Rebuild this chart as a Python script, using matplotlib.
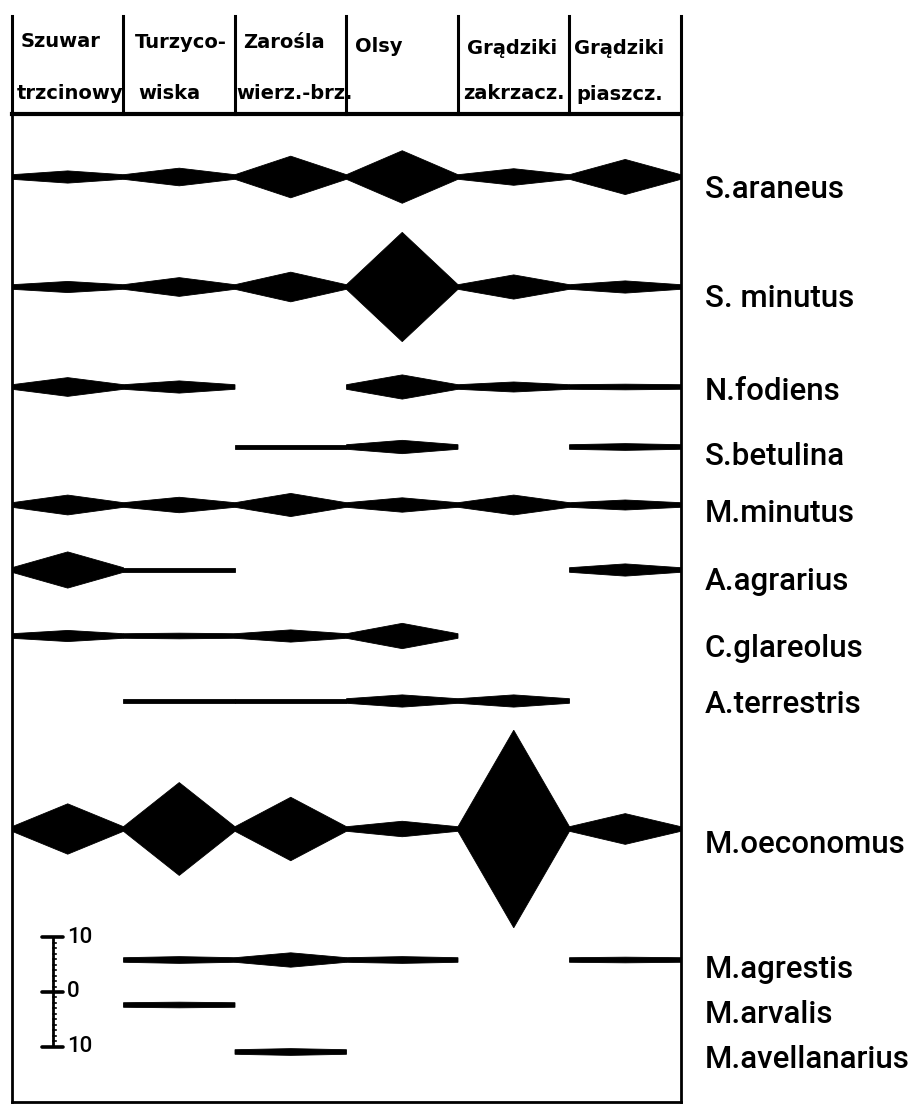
import matplotlib
matplotlib.use("Agg")
import matplotlib.pyplot as plt

# ---------------- data ----------------
habitat_line1 = ["Szuwar", "Turzyco-", "Zarośla", "Olsy", "Grądziki", "Grądziki"]
habitat_line2 = ["trzcinowy", "wiska", "wierz.-brz.", "", "zakrzacz.", "piaszcz."]

species = ["S.araneus", "S. minutus", "N.fodiens", "S.betulina", "M.minutus",
           "A.agrarius", "C.glareolus", "A.terrestris", "M.oeconomus",
           "M.agrestis", "M.arvalis", "M.avellanarius"]

# abundance per habitat (None = species absent), scale: 10 units = scale bar half
s_araneus = [0.7, 1.2, 3.4, 4.4, 1.1, 2.8]
s_minutus = [0.6, 1.3, 2.3, 9.6, 1.8, 0.7]
n_fodiens = [1.3, 0.7, None, 1.8, 0.5, 0.1]
s_betulina = [None, None, 0.0, 0.8, None, 0.2]
m_minutus = [1.4, 1.0, 1.7, 0.9, 1.4, 0.5]
a_agrarius = [2.9, 0.0, None, None, None, 0.7]
c_glareolus = [0.6, 0.1, 0.7, 1.9, None, None]
a_terrestris = [None, 0.0, 0.0, 0.7, 0.7, None]
m_oeconomus = [4.2, 8.1, 5.4, 1.0, 17.7, 2.4]
m_agrestis = [None, 0.2, 0.9, 0.2, None, 0.1]
m_arvalis = [None, 0.1, None, None, None, None]
m_avellanarius = [None, None, 0.2, None, None, None]

values = [s_araneus, s_minutus, n_fodiens, s_betulina, m_minutus, a_agrarius,
          c_glareolus, a_terrestris, m_oeconomus, m_agrestis, m_arvalis,
          m_avellanarius]

scale_ticks = [10, 0, -10]
scale_tick_labels = ["10", "0", "10"]

# ---------------- layout (pixels) ----------------
W, H = 918, 1107
BOX_L, BOX_R, HEAD_T, BOX_T, BOX_B = 12, 681, 16, 114, 1102
PPU = 5.45          # pixels per abundance unit
LINE_HALF = 0.42    # half thickness of the base line, in units
row_base_px = [177, 287, 387, 447, 505, 570, 636, 701, 829, 960, 1005, 1052]
label_base_px = [198, 307, 400, 465, 522, 590, 657, 713, 853, 978, 1023, 1068]
label_x_px = 705
head_base1 = [47, 48, 48, 52, 54, 54]
head_base2 = [99, 99, 99, 99, 99, 100]
head_pad_px = [9, 11, 8, 9, 9, 5]
head_pad2_px = [5, 15, 1, 10, 5, 7]
scale_x_px, scale_base_px = 53, 992


def rect(l, t, r, b):
    return [l / W, 1 - b / H, (r - l) / W, (b - t) / H]


fig = plt.figure(figsize=(W / 100, H / 100), dpi=100)
fig.patch.set_facecolor("white")

ax = fig.add_axes(rect(BOX_L, BOX_T, BOX_R, BOX_B))
ax.set_xlim(0, 6)
ax.set_ylim((BOX_B - BOX_T) / PPU, 0)
ax.set_xticks([])
ax.set_yticks([])
for side in ["left", "right", "bottom"]:
    ax.spines[side].set_linewidth(2.0)
ax.spines["top"].set_linewidth(3.0)
col_px = (BOX_R - BOX_L) / 6.0

# kites
for vals, bpx in zip(values, row_base_px):
    base = (bpx - BOX_T) / PPU
    for i, v in enumerate(vals):
        if v is None:
            continue
        xs = [i, i + 0.5, i + 1, i + 1, i + 0.5, i]
        ys = [base - LINE_HALF, base - LINE_HALF - v, base - LINE_HALF,
              base + LINE_HALF, base + LINE_HALF + v, base + LINE_HALF]
        ax.fill(xs, ys, color="black", lw=0.6, ec="black")

# species labels
for name, ypx in zip(species, label_base_px):
    fig.text(label_x_px / W, 1 - ypx / H, name, fontsize=22.5,
             family=["Roboto", "DejaVu Sans"], fontweight="medium",
             va="baseline", ha="left", color="black")

# scale bar
sb = (scale_base_px - BOX_T) / PPU
sx = (scale_x_px - BOX_L) / col_px
ax.plot([sx, sx], [sb - max(scale_ticks), sb - min(scale_ticks)],
        color="black", lw=2.0, solid_capstyle="butt")
dx = 10.5 / col_px
for t, lab in zip(scale_ticks, scale_tick_labels):
    ax.plot([sx - dx, sx + dx], [sb - t, sb - t], color="black", lw=2.6,
            solid_capstyle="round")
    ax.text(sx + 14 / col_px, sb - t, lab, fontsize=16,
            family=["Roboto", "DejaVu Sans"], fontweight="medium",
            va="center", ha="left")
for k in range(-9, 10):
    if k == 0:
        continue
    ax.plot([sx, sx + 3.5 / col_px], [sb - k, sb - k], color="black", lw=1.2)

# header
hax = fig.add_axes(rect(BOX_L, HEAD_T, BOX_R, BOX_T))
hax.set_xlim(0, 6)
hax.set_ylim(BOX_T, HEAD_T)
hax.axis("off")
for i in range(7):
    hax.plot([i, i], [HEAD_T, BOX_T], color="black", lw=2.2, clip_on=False)
for i in range(6):
    hax.text(i + head_pad_px[i] / col_px, head_base1[i], habitat_line1[i],
             fontsize=14, fontweight="bold", va="baseline", ha="left")
    hax.text(i + head_pad2_px[i] / col_px, head_base2[i], habitat_line2[i],
             fontsize=14, fontweight="bold", va="baseline", ha="left")

fig.savefig("out.png", dpi=100, facecolor="white")
